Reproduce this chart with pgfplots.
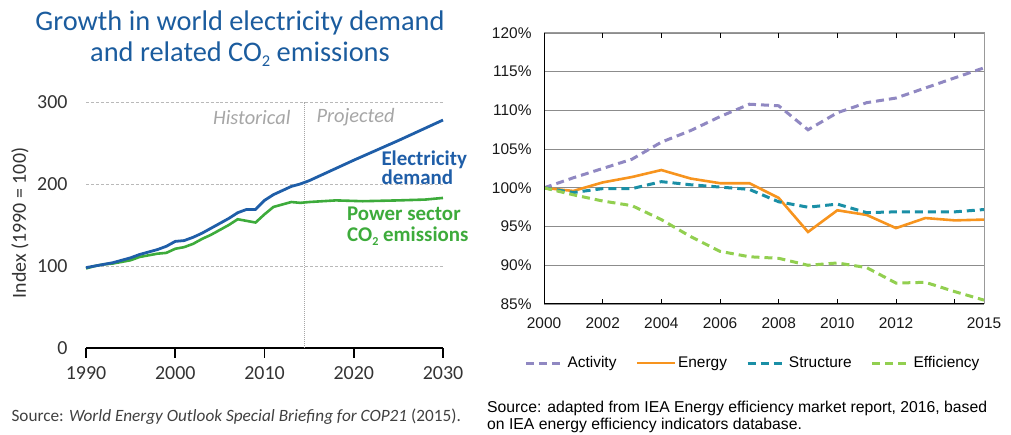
\documentclass[border=0pt]{standalone}
\usepackage{fontspec}
\setmainfont{Carlito}
\newfontfamily\arial{Liberation Sans}
\usepackage{pgfplots}
\pgfplotsset{compat=1.18}
\definecolor{titleblue}{HTML}{1B5C9E}
\definecolor{elblue}{HTML}{1F5EA8}
\definecolor{elgreen}{HTML}{3DAB3B}
\definecolor{histgray}{HTML}{A6A6A6}
\definecolor{actpurple}{HTML}{9088C2}
\definecolor{enorange}{HTML}{F7941E}
\definecolor{strteal}{HTML}{1A8FA6}
\definecolor{effgreen}{HTML}{92CF50}
\newcommand\subtwo{\raisebox{-0.3ex}{\scalebox{0.58}{2}}}
\begin{document}
\begin{tikzpicture}[x=1bp,y=1bp]
\useasboundingbox (0,0) rectangle (1011,435);
% ---------------- left chart ----------------
\begin{axis}[at={(86bp,87bp)}, anchor=south west, scale only axis,
  width=357bp, height=246bp,
  xmin=1990, xmax=2030, ymin=0, ymax=300,
  axis x line*=bottom, axis y line*=left,
  y axis line style={draw=none},
  x axis line style={line width=1.6bp, black},
  xtick={1990,2000,...,2030}, ytick={0,100,200,300},
  tick align=outside, major tick length=10bp,
  xtick style={line width=1.6bp, black},
  ytick style={draw=none},
  ymajorgrids, grid style={densely dashed, gray!55, line width=0.9bp},
  tick label style={font=\fontsize{20}{22}\selectfont, text=black!80},
  x tick label style={yshift=-5bp},
  y tick label style={xshift=-5bp},
  /pgf/number format/assume math mode=true,
  /pgf/number format/1000 sep={},
  clip=false]
\draw[gray!70, densely dotted, line width=1bp] (axis cs:2014.5,0) -- (axis cs:2014.5,300);
\addplot[elgreen, line width=2.6bp] coordinates {
(1990,97) (1991,100) (1992,102) (1993,103) (1994,105) (1995,107) (1996,111) (1997,113)
(1998,115) (1999,116) (2000,121) (2001,123) (2002,127) (2003,133) (2004,138) (2005,144)
(2006,150) (2007,157) (2008,155) (2009,153) (2010,163) (2011,172) (2012,175) (2013,178)
(2014,177) (2015,178) (2018,180) (2021,179) (2025,180) (2028,181) (2030,183)};
\addplot[elblue, line width=2.8bp] coordinates {
(1990,98) (1991,100) (1992,102) (1993,104) (1994,107) (1995,110) (1996,114) (1997,117)
(1998,120) (1999,124) (2000,130) (2001,131) (2002,135) (2003,140) (2004,146) (2005,152)
(2006,158) (2007,165) (2008,169) (2009,169) (2010,180) (2011,187) (2012,192) (2013,197)
(2014,200) (2015,204) (2018,219) (2020,229) (2025,253) (2030,278)};
\end{axis}
\node[anchor=base, font=\fontsize{28.5}{31}\selectfont, text=titleblue] at (240,404) {Growth in world electricity demand};
\node[anchor=base, font=\fontsize{28.5}{31}\selectfont, text=titleblue] at (240,373) {and related CO\subtwo{} emissions};
\node[rotate=90, font=\fontsize{20}{22}\selectfont, text=black!80] at (20,212) {Index (1990 = 100)};
\node[anchor=east, font=\itshape\fontsize{20.5}{22}\selectfont, text=histgray] at (294,318) {Historical};
\node[anchor=west, font=\itshape\fontsize{20.5}{22}\selectfont, text=histgray] at (313,318) {Projected};
\node[anchor=west, align=left, font=\bfseries\fontsize{21}{18}\selectfont, text=elblue] at (378,267) {Electricity\\demand};
\node[anchor=base west, inner sep=0pt, font=\bfseries\fontsize{21}{19}\selectfont, text=elgreen] at (347,214) {Power sector};
\node[anchor=base west, inner sep=0pt, font=\bfseries\fontsize{21}{19}\selectfont, text=elgreen] at (347,193) {CO\subtwo{} emissions};
\node[anchor=west, font=\fontsize{17.3}{19}\selectfont, text=black!75] at (8,18) {Source: \textit{World Energy Outlook Special Briefing for COP21} (2015).};
% ---------------- right chart ----------------
\begin{axis}[at={(544bp,131bp)}, anchor=south west, scale only axis,
  width=440bp, height=271bp,
  xmin=2000, xmax=2015, ymin=85, ymax=120,
  xtick={2000,2002,...,2014,2015},
  xticklabels={2000,2002,2004,2006,2008,2010,2012,,2015},
  ytick={85,90,...,120},
  yticklabel={\pgfmathprintnumber{\tick}\%},
  ymajorgrids, grid style={gray!90, line width=1.1bp},
  axis line style={gray!80, line width=1bp},
  tick align=inside, major tick length=5bp,
  xtick style={black, line width=1bp}, ytick style={draw=none},
  tick label style={font=\arial\fontsize{15.5}{17}\selectfont, text=black!90},
  x tick label style={yshift=-10bp},
  y tick label style={xshift=-9bp},
  /pgf/number format/assume math mode=true,
  /pgf/number format/1000 sep={},
  legend columns=4,
  legend style={draw=none, at={(0.475,-0.218)}, anchor=center,
    font=\arial\fontsize{15.5}{17}\selectfont,
    /tikz/every even column/.append style={column sep=17bp}},
  legend image code/.code={\draw[#1] (0bp,0bp) -- (38bp,0bp);},
  ]
\addplot[actpurple, line width=3bp, dash pattern=on 8bp off 5bp] coordinates {
(2000,100) (2001,101.3) (2002,102.5) (2003,103.7) (2004,105.9) (2005,107.4) (2006,109.2)
(2007,110.8) (2008,110.6) (2009,107.5) (2010,109.7) (2011,111.0) (2012,111.6) (2013,112.9)
(2014,114.2) (2015,115.5)};
\addlegendentry{Activity}
\addplot[enorange, line width=2.6bp] coordinates {
(2000,100) (2001,99.6) (2002,100.7) (2003,101.4) (2004,102.3) (2005,101.2) (2006,100.6)
(2007,100.6) (2008,98.7) (2009,94.3) (2010,97.1) (2011,96.5) (2012,94.8) (2013,96.1)
(2014,95.8) (2015,95.9)};
\addlegendentry{Energy}
\addplot[strteal, line width=3bp, dash pattern=on 8bp off 5bp] coordinates {
(2000,100) (2001,99.4) (2002,99.9) (2003,99.9) (2004,100.8) (2005,100.4) (2006,100.1)
(2007,99.8) (2008,98.2) (2009,97.5) (2010,97.9) (2011,96.8) (2012,96.9) (2013,96.9)
(2014,96.9) (2015,97.2)};
\addlegendentry{Structure}
\addplot[effgreen, line width=3bp, dash pattern=on 8bp off 5bp] coordinates {
(2000,100) (2001,99.1) (2002,98.3) (2003,97.7) (2004,95.9) (2005,93.7) (2006,91.8)
(2007,91.1) (2008,90.9) (2009,90.0) (2010,90.3) (2011,89.7) (2012,87.7) (2013,87.8)
(2014,86.6) (2015,85.5)};
\addlegendentry{Efficiency}
\draw[black, line width=1.5bp] (rel axis cs:0,1) -- (rel axis cs:0,0) -- (rel axis cs:1,0);
\end{axis}
\node[anchor=north west, align=left, inner sep=2bp, font=\arial\fontsize{15.8}{17}\selectfont, text=black] at (485,36) {Source: adapted from IEA Energy efficiency market report, 2016, based\\on IEA energy efficiency indicators database.};
\end{tikzpicture}
\end{document}
